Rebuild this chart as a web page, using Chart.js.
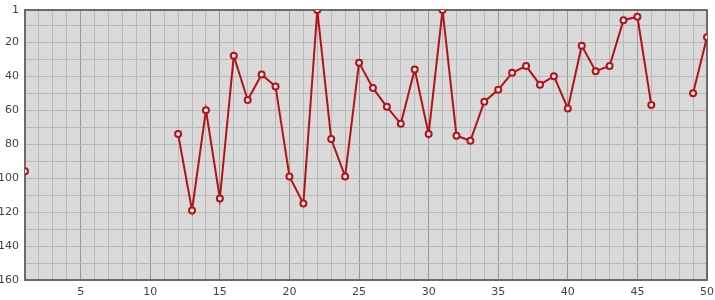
<!DOCTYPE html>
<html>
<head>
<meta charset="utf-8">
<script src="https://cdn.jsdelivr.net/npm/chart.js@4.4.1/dist/chart.umd.min.js"></script>
<style>
  html, body { margin: 0; padding: 0; background: #fff; }
  #wrap { width: 715px; height: 300px; }
</style>
</head>
<body>
<div id="wrap"><canvas id="rankChart" width="715" height="300"></canvas></div>
<script>
// positions 1..50, null = no value
const positions = [
    1, 2, 3, 4, 5, 6, 7, 8, 9, 10,
    11, 12, 13, 14, 15, 16, 17, 18, 19, 20,
    21, 22, 23, 24, 25, 26, 27, 28, 29, 30,
    31, 32, 33, 34, 35, 36, 37, 38, 39, 40,
    41, 42, 43, 44, 45, 46, 47, 48, 49, 50
];
const ranks = [
    96, null, null, null, null, null, null, null, null, null,
    null, 74, 119, 60, 112, 28, 54, 39, 46, 99,
    115, 1, 77, 99, 32, 47, 58, 68, 36, 74,
    1, 75, 78, 55, 48, 38, 34, 45, 40, 59,
    22, 37, 34, 7, 5, 57, null, null, 50, 17
];
const yTickLabels = [1, 20, 40, 60, 80, 100, 120, 140, 160];
const yGridLines = [1, 10, 20, 30, 40, 50, 60, 70, 80, 90, 100, 110, 120, 130, 140, 150, 160];
const xTickLabels = [5, 10, 15, 20, 25, 30, 35, 40, 45, 50];

document.addEventListener("DOMContentLoaded", function () {
    // plot background and frame
    const plotFrame = {
        id: "plotFrame",
        beforeDraw(chart) {
            const a = chart.chartArea;
            const c = chart.ctx;
            c.save();
            c.fillStyle = "#d9d9d9";
            c.fillRect(a.left, a.top, a.right - a.left, a.bottom - a.top);
            c.restore();
        },
        beforeDatasetsDraw(chart) {
            const a = chart.chartArea;
            const c = chart.ctx;
            c.save();
            c.strokeStyle = "#6b6b6b";
            c.lineWidth = 2;
            c.strokeRect(a.left, a.top, a.right - a.left, a.bottom - a.top);
            c.restore();
        }
    };

    const ctx = document.getElementById("rankChart").getContext("2d");
    new Chart(ctx, {
        type: "line",
        data: {
            datasets: [{
                data: positions.map((p, i) => ({ x: p, y: ranks[i] })),
                borderColor: "#b0141a",
                borderWidth: 2,
                pointRadius: 3,
                pointBorderWidth: 2,
                pointBackgroundColor: "#e8e8e8",
                pointBorderColor: "#b0141a",
                spanGaps: false,
                tension: 0
            }]
        },
        options: {
            responsive: false,
            animation: false,
            layout: { padding: { top: 10, right: 8, left: 0, bottom: 0 } },
            plugins: { legend: { display: false }, tooltip: { enabled: false } },
            scales: {
                x: {
                    type: "linear",
                    min: 1,
                    max: 50,
                    afterBuildTicks: s => { s.ticks = positions.map(v => ({ value: v })); },
                    afterFit: s => { s.height = 20; s.paddingRight = 0; },
                    ticks: {
                        autoSkip: false,
                        maxRotation: 0,
                        padding: 6,
                        color: "#444",
                        font: { family: "DejaVu Sans", size: 11 },
                        callback: v => xTickLabels.includes(v) ? String(v) : ""
                    },
                    grid: {
                        drawTicks: false,
                        color: c => xTickLabels.includes(c.tick.value) ? "#999999" : "#b8b8b8",
                        lineWidth: 1
                    },
                    border: { display: false }
                },
                y: {
                    reverse: true,
                    min: 1,
                    max: 160,
                    afterBuildTicks: s => { s.ticks = yGridLines.map(v => ({ value: v })); },
                    afterFit: s => { s.width = 25; s.paddingTop = 0; },
                    ticks: {
                        autoSkip: false,
                        padding: 6,
                        color: "#444",
                        font: { family: "DejaVu Sans", size: 11 },
                        callback: v => yTickLabels.includes(v) ? String(v) : ""
                    },
                    grid: { drawTicks: false, color: "#b8b8b8", lineWidth: 1 },
                    border: { display: false }
                }
            }
        },
        plugins: [plotFrame]
    });
});
</script>
</body>
</html>
